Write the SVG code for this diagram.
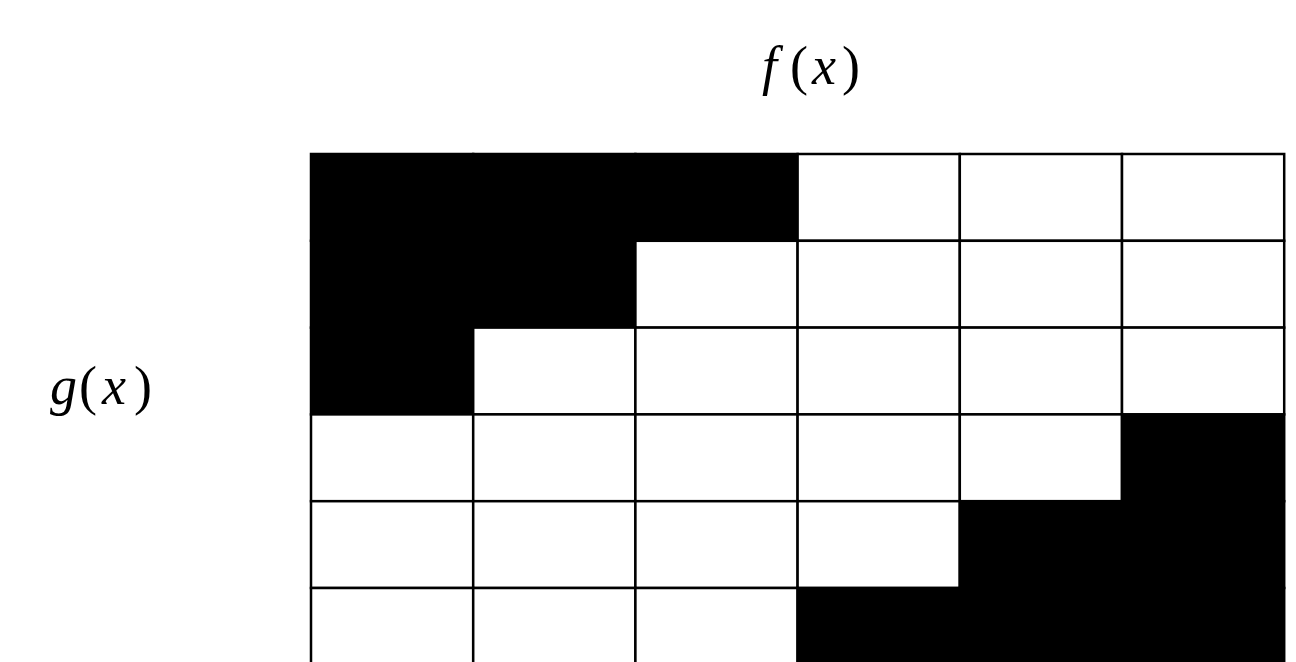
<svg xmlns="http://www.w3.org/2000/svg" width="1296" height="662" viewBox="0 0 1296 662">
  <style>
    .lbl { font-family: "Liberation Serif", "DejaVu Serif", serif; font-size: 54px; fill: #000; }
    .it { font-style: italic; }
    .cell { stroke: #000; stroke-width: 2.5; }
    .on { fill: #000; }
    .off { fill: #fff; }
  </style>
  <rect width="1296" height="662" fill="#fff"/>

  <g id="label-f">
    <text class="lbl" y="84"><tspan class="it" x="762">f</tspan><tspan x="790">(</tspan><tspan class="it" x="812">x</tspan><tspan x="842">)</tspan></text>
  </g>
  <g id="label-g">
    <text class="lbl" y="404"><tspan class="it" x="50">g</tspan><tspan x="79">(</tspan><tspan class="it" x="102">x</tspan><tspan x="134">)</tspan></text>
  </g>

  <!-- 6 x 6 grid, columns 162.2 wide, rows 86.8 high -->
  <g id="grid">
    <!-- row 0 -->
    <rect class="cell on"  x="311"   y="154"   width="162.2" height="86.8"/>
    <rect class="cell on"  x="473.2" y="154"   width="162.2" height="86.8"/>
    <rect class="cell on"  x="635.4" y="154"   width="162.2" height="86.8"/>
    <rect class="cell off" x="797.6" y="154"   width="162.2" height="86.8"/>
    <rect class="cell off" x="959.8" y="154"   width="162.2" height="86.8"/>
    <rect class="cell off" x="1122"  y="154"   width="162.2" height="86.8"/>
    <!-- row 1 -->
    <rect class="cell on"  x="311"   y="240.8" width="162.2" height="86.8"/>
    <rect class="cell on"  x="473.2" y="240.8" width="162.2" height="86.8"/>
    <rect class="cell off" x="635.4" y="240.8" width="162.2" height="86.8"/>
    <rect class="cell off" x="797.6" y="240.8" width="162.2" height="86.8"/>
    <rect class="cell off" x="959.8" y="240.8" width="162.2" height="86.8"/>
    <rect class="cell off" x="1122"  y="240.8" width="162.2" height="86.8"/>
    <!-- row 2 -->
    <rect class="cell on"  x="311"   y="327.6" width="162.2" height="86.8"/>
    <rect class="cell off" x="473.2" y="327.6" width="162.2" height="86.8"/>
    <rect class="cell off" x="635.4" y="327.6" width="162.2" height="86.8"/>
    <rect class="cell off" x="797.6" y="327.6" width="162.2" height="86.8"/>
    <rect class="cell off" x="959.8" y="327.6" width="162.2" height="86.8"/>
    <rect class="cell off" x="1122"  y="327.6" width="162.2" height="86.8"/>
    <!-- row 3 -->
    <rect class="cell off" x="311"   y="414.4" width="162.2" height="86.8"/>
    <rect class="cell off" x="473.2" y="414.4" width="162.2" height="86.8"/>
    <rect class="cell off" x="635.4" y="414.4" width="162.2" height="86.8"/>
    <rect class="cell off" x="797.6" y="414.4" width="162.2" height="86.8"/>
    <rect class="cell off" x="959.8" y="414.4" width="162.2" height="86.8"/>
    <rect class="cell on"  x="1122"  y="414.4" width="162.2" height="86.8"/>
    <!-- row 4 -->
    <rect class="cell off" x="311"   y="501.2" width="162.2" height="86.8"/>
    <rect class="cell off" x="473.2" y="501.2" width="162.2" height="86.8"/>
    <rect class="cell off" x="635.4" y="501.2" width="162.2" height="86.8"/>
    <rect class="cell off" x="797.6" y="501.2" width="162.2" height="86.8"/>
    <rect class="cell on"  x="959.8" y="501.2" width="162.2" height="86.8"/>
    <rect class="cell on"  x="1122"  y="501.2" width="162.2" height="86.8"/>
    <!-- row 5 (runs past the lower edge) -->
    <rect class="cell off" x="311"   y="588"   width="162.2" height="86.8"/>
    <rect class="cell off" x="473.2" y="588"   width="162.2" height="86.8"/>
    <rect class="cell off" x="635.4" y="588"   width="162.2" height="86.8"/>
    <rect class="cell on"  x="797.6" y="588"   width="162.2" height="86.8"/>
    <rect class="cell on"  x="959.8" y="588"   width="162.2" height="86.8"/>
    <rect class="cell on"  x="1122"  y="588"   width="162.2" height="86.8"/>
  </g>
</svg>
